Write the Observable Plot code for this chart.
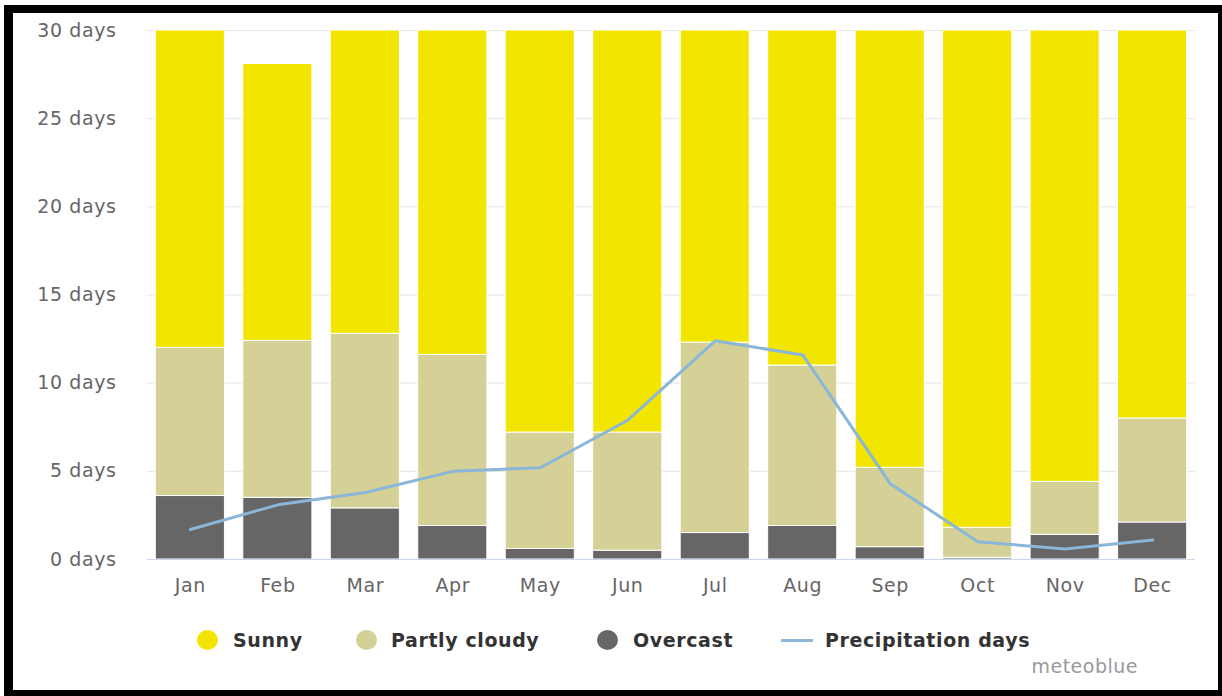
<!DOCTYPE html>
<html>
<head>
<meta charset="utf-8">
<script src="https://cdn.jsdelivr.net/npm/d3@7"></script>
<script src="https://cdn.jsdelivr.net/npm/@observablehq/plot@0.6"></script>
<style>
  html, body { margin: 0; padding: 0; background: #fff; }
  body { width: 1222px; height: 696px; position: relative; overflow: hidden; font-family: "DejaVu Sans", Verdana, sans-serif; }
  #frame { position: absolute; left: 4px; top: 5px; width: 1223px; height: 694px; box-sizing: border-box; border: 9px solid #000; border-top-width: 8px; pointer-events: none; z-index: 3; }
  #chart { position: absolute; left: 0; top: 0; z-index: 1; }
  .leg { position: absolute; z-index: 2; font-weight: bold; font-size: 19px; color: #333; letter-spacing: 0.6px; white-space: nowrap; line-height: 1; }
  .dot { position: absolute; z-index: 2; width: 21px; height: 20px; border-radius: 50%; }
  .lline { position: absolute; z-index: 2; width: 32px; height: 3px; background: #8db8d8; }
  #credit { position: absolute; z-index: 2; right: 84px; top: 657px; font-size: 19px; color: #999; letter-spacing: 0.5px; line-height: 1; }
</style>
</head>
<body>
<div id="frame"></div>
<div id="chart"></div>
<div class="dot" style="left:197px;top:630px;background:#f2e600"></div>
<div class="leg" style="left:233px;top:631px">Sunny</div>
<div class="dot" style="left:356px;top:630px;background:#d5d096"></div>
<div class="leg" style="left:391px;top:631px">Partly cloudy</div>
<div class="dot" style="left:597px;top:630px;background:#666666"></div>
<div class="leg" style="left:633px;top:631px">Overcast</div>
<div class="lline" style="left:781px;top:639px"></div>
<div class="leg" style="left:825px;top:631px">Precipitation days</div>
<div id="credit">meteoblue</div>
<script>
const months = ["Jan","Feb","Mar","Apr","May","Jun","Jul","Aug","Sep","Oct","Nov","Dec"];
const overcast = [3.6, 3.5, 2.9, 1.9, 0.6, 0.5, 1.5, 1.9, 0.7, 0.1, 1.4, 2.1];
const partlyCloudy = [8.4, 8.9, 9.9, 9.7, 6.6, 6.7, 10.8, 9.1, 4.5, 1.7, 3.0, 5.9];
const sunny = [18.0, 15.7, 17.2, 18.4, 22.8, 22.8, 17.7, 19.0, 24.8, 28.2, 25.6, 22.0];
const precipitationDays = [1.7, 3.1, 3.8, 5.0, 5.2, 7.9, 12.4, 11.6, 4.3, 1.0, 0.6, 1.1];
const yTicks = [0, 5, 10, 15, 20, 25, 30];
const seriesNames = ["Sunny", "Partly cloudy", "Overcast"];
const seriesColors = ["#f2e600", "#d5d096", "#666666"];

const stacked = [];
months.forEach((m, i) => {
  stacked.push({month: m, type: "Overcast", value: overcast[i]});
  stacked.push({month: m, type: "Partly cloudy", value: partlyCloudy[i]});
  stacked.push({month: m, type: "Sunny", value: sunny[i]});
});
const precip = months.map((m, i) => ({month: m, value: precipitationDays[i]}));

const chart = Plot.plot({
  width: 1222,
  height: 600,
  marginLeft: 147,
  marginRight: 27,
  marginTop: 30,
  marginBottom: 41,
  style: {fontFamily: "'DejaVu Sans', Verdana, sans-serif", fontSize: "19px", color: "#666", background: "transparent", letterSpacing: "0.6px"},
  x: {domain: months, paddingInner: 0.21, paddingOuter: 0.095, round: false, label: null},
  y: {domain: [0, 30], label: null},
  color: {domain: seriesNames, range: seriesColors},
  marks: [
    Plot.ruleY(yTicks.filter(d => d > 0), {stroke: "#e6e6e6", strokeWidth: 1}),
    Plot.barY(stacked, {x: "month", y: "value", fill: "type", stroke: "white", strokeWidth: 1}),
    Plot.ruleY([0], {stroke: "#ccd6eb", strokeWidth: 1}),
    Plot.line(precip, {x: "month", y: "value", stroke: "#89b6d9", strokeWidth: 3, curve: "linear"}),
    Plot.axisY({ticks: yTicks, tickSize: 0, tickPadding: 31, tickFormat: d => `${d} days`, label: null}),
    Plot.axisX({tickSize: 0, tickPadding: 19, label: null})
  ]
});
document.getElementById("chart").appendChild(chart);
</script>
</body>
</html>
